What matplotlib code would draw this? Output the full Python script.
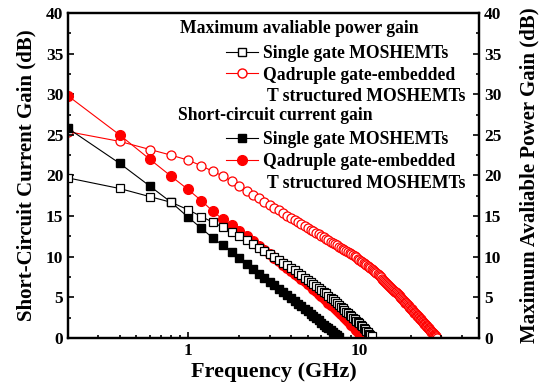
import numpy as np
import matplotlib
matplotlib.use("Agg")
import matplotlib.pyplot as plt
from matplotlib.lines import Line2D

plt.rcParams['font.family'] = ['Liberation Serif', 'DejaVu Serif']
plt.rcParams['font.weight'] = 'bold'

# frequency sweep step (GHz); every series starts at one step
freq_step = 0.2

# short-circuit current gain h21 (dB)
h21_single = [25.8, 21.5, 18.7, 16.7, 14.9, 13.5, 12.3, 11.4, 10.6, 9.85,
              9.1, 8.49, 7.93, 7.42, 6.94, 6.49, 6.08, 5.68, 5.29, 4.94,
              4.59, 4.24, 3.90, 3.58, 3.27, 2.97, 2.70, 2.42, 2.16, 1.90,
              1.65, 1.41, 1.17, 0.94, 0.73, 0.52, 0.31, 0.10]

h21_quad = [29.8, 25.0, 22.0, 19.9, 18.3, 16.9, 15.6, 14.6, 13.9, 13.2,
            12.55, 11.92, 11.35, 10.82, 10.32, 9.86, 9.43, 9.02, 8.62, 8.26,
            7.91, 7.58, 7.25, 6.96, 6.66, 6.34, 6.03, 5.73, 5.44, 5.16,
            4.89, 4.63, 4.36, 4.11, 3.88, 3.66, 3.43, 3.20, 2.99, 2.77,
            2.53, 2.31, 2.09, 1.87, 1.65, 1.43, 1.23, 1.04, 0.84, 0.64,
            0.44, 0.27, 0.09]

# maximum available power gain (dB)
mag_single = [19.7, 18.4, 17.4, 16.7, 15.8, 14.95, 14.24, 13.62, 13.07, 12.59,
              12.05, 11.56, 11.10, 10.69, 10.30, 9.93, 9.60, 9.27, 8.96, 8.67,
              8.34, 8.03, 7.72, 7.44, 7.17, 6.90, 6.65, 6.41, 6.17, 5.94,
              5.72, 5.49, 5.22, 4.97, 4.74, 4.52, 4.29, 4.06, 3.85, 3.64,
              3.43, 3.24, 3.05, 2.86, 2.67, 2.48, 2.31, 2.14, 1.97, 1.80,
              1.60, 1.43, 1.25, 1.07, 0.90, 0.72, 0.55, 0.39, 0.22]

mag_quad = [25.4, 24.2, 23.2, 22.5, 21.9, 21.2, 20.5, 19.95, 19.3, 18.7,
            18.15, 17.66, 17.20, 16.79, 16.40, 16.03, 15.70, 15.37, 15.07, 14.79,
            14.52, 14.27, 14.01, 13.79, 13.56, 13.34, 13.14, 12.94, 12.74, 12.55,
            12.38, 12.20, 12.02, 11.86, 11.70, 11.55, 11.40, 11.25, 11.11, 10.97,
            10.83, 10.70, 10.57, 10.45, 10.32, 10.19, 10.05, 9.91, 9.76, 9.62,
            9.48, 9.35, 9.22, 9.09, 8.96, 8.84, 8.71, 8.60, 8.47, 8.36,
            8.24, 8.13, 8.02, 7.87, 7.73, 7.58, 7.45, 7.31, 7.18, 7.05,
            6.93, 6.80, 6.68, 6.55, 6.42, 6.30, 6.17, 6.07, 5.94, 5.84,
            5.71, 5.60, 5.50, 5.39, 5.29, 5.15, 5.03, 4.91, 4.82, 4.70,
            4.58, 4.47, 4.35, 4.26, 4.14, 4.04, 3.93, 3.83, 3.72, 3.62,
            3.53, 3.41, 3.32, 3.22, 3.13, 3.03, 2.94, 2.85, 2.75, 2.66,
            2.56, 2.47, 2.38, 2.28, 2.19, 2.12, 2.02, 1.93, 1.84, 1.76,
            1.67, 1.60, 1.51, 1.44, 1.34, 1.27, 1.18, 1.11, 1.01, 0.94,
            0.87, 0.78, 0.71, 0.64, 0.57, 0.47, 0.40, 0.33, 0.26, 0.19,
            0.12, 0.05]


def freqs(vals):
    return freq_step * np.arange(1, len(vals) + 1)


fig = plt.figure(figsize=(5.42, 3.92), dpi=100)
ax = fig.add_axes([0.1255, 0.1378, 0.7583, 0.829])
ax2 = ax.twinx()

lw = 0.8
ax.plot(freqs(mag_quad), mag_quad, '-o', color='red', mfc='white', mec='red',
        ms=6.5, lw=lw, mew=0.9, zorder=1)
ax.plot(freqs(h21_single), h21_single, '-s', color='black', ms=6, lw=lw, zorder=2)
ax.plot(freqs(h21_quad), h21_quad, '-o', color='red', ms=7, lw=lw, zorder=3)
ax.plot(freqs(mag_single), mag_single, '-s', color='black', mfc='white', mec='black',
        ms=6, lw=lw, mew=0.9, zorder=4)

ax.set_xscale('log')
ax.set_xlim(0.2, 50)
ax.set_ylim(0, 40)
ax2.set_ylim(0, 40)
ax.set_xticks([1, 10])
ax.set_xticklabels(['1', '10'])
for a in (ax, ax2):
    a.set_yticks(np.arange(0, 41, 5))
    a.set_yticks(np.arange(0, 41, 2.5), minor=True)
    a.tick_params(which='both', direction='in', labelsize=12.5, width=1.2)
    a.tick_params(which='major', length=4)
    a.tick_params(which='minor', length=2)
    for s in a.spines.values():
        s.set_linewidth(1.6)
ax.tick_params(axis='x', which='both', top=False)
ax.tick_params(axis='y', which='both', right=False)

ax.set_xlabel('Frequency (GHz)', fontsize=16, fontweight='bold', labelpad=2)
ax.set_ylabel('Short-Circuit Current Gain (dB)', fontsize=15, fontweight='bold', labelpad=7)
ax2.set_ylabel('Maximum Avaliable Power Gain (dB)', fontsize=15, fontweight='bold', labelpad=13)

# legend blocks
fs_leg = 12.7
ax.text(0.2725, 0.951, 'Maximum avaliable power gain', transform=ax.transAxes,
        fontsize=fs_leg, fontweight='bold', va='center', ha='left')
ax.text(0.268, 0.686, 'Short-circuit current gain', transform=ax.transAxes,
        fontsize=fs_leg, fontweight='bold', va='center', ha='left')

blank = Line2D([], [], color='none')
h_mag = [Line2D([], [], color='black', marker='s', mfc='white', ms=6, lw=lw),
         Line2D([], [], color='red', marker='o', mfc='white', ms=6.5, lw=lw), blank]
h_h21 = [Line2D([], [], color='black', marker='s', ms=6, lw=lw),
         Line2D([], [], color='red', marker='o', ms=7, lw=lw), blank]
labels = ['Single gate MOSHEMTs', 'Qadruple gate-embedded', ' T structured MOSHEMTs']

leg1 = ax.legend(h_mag, labels, loc='upper left', bbox_to_anchor=(0.385, 0.902),
                 frameon=False, fontsize=fs_leg, handlelength=1.8, handletextpad=0.3,
                 labelspacing=0.27, borderpad=0, borderaxespad=0)
ax.add_artist(leg1)
ax.legend(h_h21, labels, loc='upper left', bbox_to_anchor=(0.385, 0.637),
          frameon=False, fontsize=fs_leg, handlelength=1.8, handletextpad=0.3,
          labelspacing=0.27, borderpad=0, borderaxespad=0)

fig.savefig('out.png', dpi=100)
